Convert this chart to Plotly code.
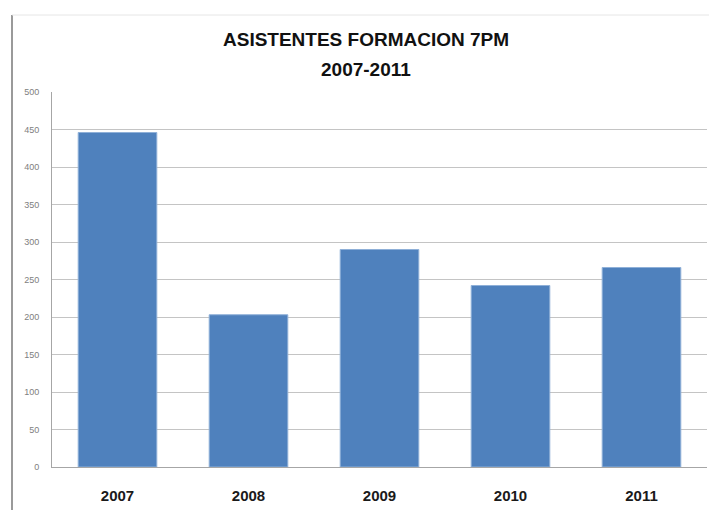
import plotly.graph_objects as go

years = ["2007", "2008", "2009", "2010", "2011"]
asistentes = [446, 203, 290, 242, 266]
y_ticks = [0, 50, 100, 150, 200, 250, 300, 350, 400, 450, 500]
title_line1 = "ASISTENTES FORMACION 7PM"
title_line2 = "2007-2011"

W, H = 709, 510
L, R, T, B = 52, 2, 92, 43
pw = W - L - R
ph = H - T - B


def px(xp):
    return (xp - L) / pw


def py(yp):
    return (H - B - yp) / ph


fig = go.Figure()
fig.add_trace(go.Bar(
    x=years, y=asistentes,
    marker=dict(color="#4F81BD", line=dict(color="#8fb0d8", width=1)),
    width=0.6,
))

fig.update_layout(
    width=W, height=H,
    margin=dict(l=L, r=R, t=T, b=B, autoexpand=False),
    paper_bgcolor="white", plot_bgcolor="white",
    showlegend=False,
    font=dict(family="Liberation Sans, Arial, sans-serif"),
    xaxis=dict(
        automargin=False,
        showline=True, linecolor="#a6a6a6", linewidth=1,
        showgrid=False, ticks="",
        tickfont=dict(size=15, color="#1a1a1a", family="Liberation Sans, Arial, sans-serif", weight="bold"),
        ticklabelstandoff=15,
    ),
    yaxis=dict(
        automargin=False,
        range=[0, 500], tickvals=y_ticks,
        showgrid=True, gridcolor="#c4c4c4", gridwidth=1,
        showline=True, linecolor="#a6a6a6", linewidth=1,
        zeroline=False, ticks="",
        tickfont=dict(size=9, color="#808080"),
        ticklabelstandoff=10,
    ),
    annotations=[
        dict(text="<b>" + title_line1 + "</b>", xref="paper", yref="paper",
             x=px(366), y=py(40), showarrow=False, xanchor="center", yanchor="middle",
             font=dict(size=19, color="#111111")),
        dict(text="<b>" + title_line2 + "</b>", xref="paper", yref="paper",
             x=px(366), y=py(69), showarrow=False, xanchor="center", yanchor="middle",
             font=dict(size=19, color="#111111")),
    ],
    shapes=[
        dict(type="line", xref="paper", yref="paper",
             x0=px(12), x1=px(12), y0=py(15), y1=py(H),
             line=dict(color="#9a9a9a", width=2)),
        dict(type="line", xref="paper", yref="paper",
             x0=px(12), x1=px(W), y0=py(15), y1=py(15),
             line=dict(color="#e6e6e6", width=1)),
    ],
)

fig.write_html("out.html",
               config={"displayModeBar": False},
               post_script="document.body.style.margin='0';document.body.style.overflow='hidden';")
